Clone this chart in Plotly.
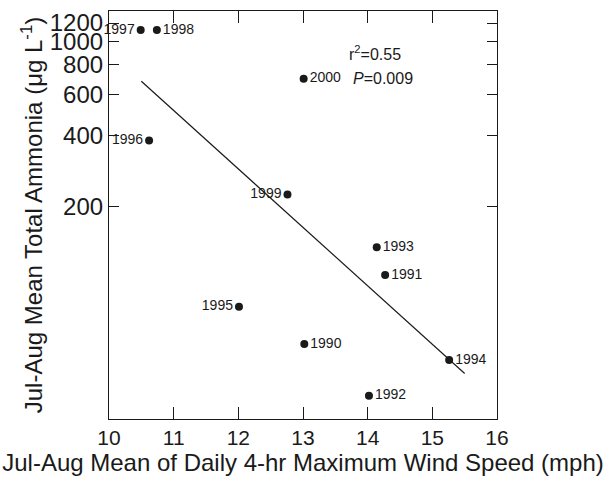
import numpy as np
import plotly.graph_objects as go

years = ["1990", "1991", "1992", "1993", "1994", "1995", "1996", "1997", "1998", "1999", "2000"]
wind = [13.02, 14.27, 14.02, 14.14, 15.26, 12.01, 10.62, 10.49, 10.74, 12.76, 13.01]
ammonia = [52.6, 103, 31.8, 135, 45, 75.6, 382, 1120, 1120, 226, 698]
label_side = ["middle right", "middle right", "middle right", "middle right", "middle right",
              "middle left", "middle left", "middle left", "middle right", "middle left", "middle right"]

fit_x = [10.5, 15.5]
fit_y = [680, 39.5]

y_ticks = [200, 400, 600, 800, 1000, 1200]
x_ticks = [10, 11, 12, 13, 14, 15, 16]

font = "Liberation Sans, Arial, sans-serif"
ink = "#1a1a1a"

fig = go.Figure()
fig.add_trace(go.Scatter(x=fit_x, y=fit_y, mode="lines",
                         line=dict(color=ink, width=1.2), showlegend=False))
fig.add_trace(go.Scatter(x=wind, y=ammonia, mode="markers+text", text=years,
                         textposition=label_side, cliponaxis=False,
                         textfont=dict(family=font, size=14, color=ink),
                         marker=dict(color=ink, size=8), showlegend=False))

fig.add_annotation(x=0.614, y=0.898, xref="paper", yref="paper", text="r<sup>2</sup>=0.55",
                   showarrow=False, xanchor="left", yanchor="middle",
                   font=dict(family=font, size=16, color=ink))
fig.add_annotation(x=0.624, y=0.834, xref="paper", yref="paper", text="<i>P</i>=0.009",
                   showarrow=False, xanchor="left", yanchor="middle",
                   font=dict(family=font, size=16, color=ink))

fig.update_layout(
    width=615, height=481,
    margin=dict(l=109, r=118, t=9, b=62),
    paper_bgcolor="white", plot_bgcolor="white",
    font=dict(family=font, color=ink),
    xaxis=dict(range=[10, 16], tickvals=x_ticks, ticks="inside", ticklen=12,
               tickcolor=ink, showline=True, linecolor=ink, linewidth=1.2, mirror="ticks",
               showgrid=False, zeroline=False, tickfont=dict(size=21),
               title=dict(text="Jul-Aug Mean of Daily 4-hr Maximum Wind Speed (mph)",
                          font=dict(size=24), standoff=3)),
    yaxis=dict(type="log", range=[1.404, 3.130], tickvals=y_ticks,
               ticktext=[str(v) for v in y_ticks], ticks="inside", ticklen=10,
               tickcolor=ink, showline=True, linecolor=ink, linewidth=1.2, mirror="ticks",
               showgrid=False, zeroline=False, tickfont=dict(size=24),
               title=dict(text="Jul-Aug Mean Total Ammonia (μg L<sup>-1</sup>)",
                          font=dict(size=24), standoff=0)),
)

fig.write_html("out.html")
